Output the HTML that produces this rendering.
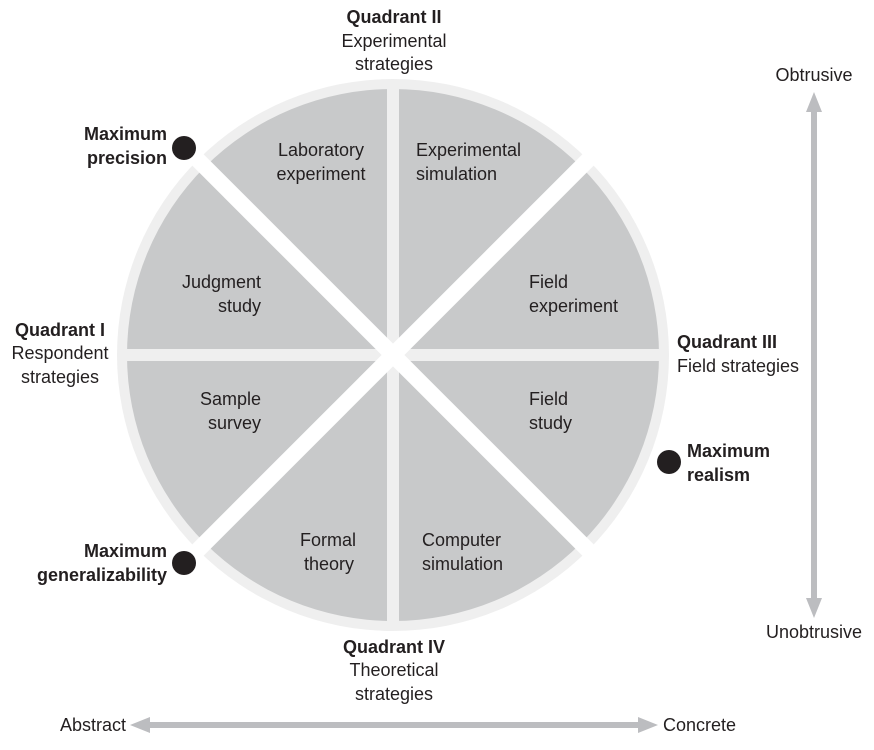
<!DOCTYPE html>
<html><head><meta charset="utf-8"><style>
html,body{margin:0;padding:0;background:#fff;width:874px;height:750px;overflow:hidden}
svg text{font-family:"Liberation Sans",sans-serif;font-size:18px;fill:#231f20}
.b{font-weight:bold}
</style></head><body>
<svg width="874" height="750" viewBox="0 0 874 750" xmlns="http://www.w3.org/2000/svg">
<circle cx="393" cy="355" r="276" fill="#efefef"/>
<circle cx="393" cy="355" r="266" fill="#c8c9ca"/>
<rect x="387" y="80" width="12" height="550" fill="#efefef"/>
<rect x="118" y="349" width="550" height="12" fill="#efefef"/>
<g transform="rotate(45 393 355)">
<rect x="385" y="60" width="16" height="590" fill="#fff"/>
<rect x="98" y="347" width="590" height="16" fill="#fff"/>
</g>
<rect x="811" y="108" width="6" height="494" fill="#bcbdc0"/>
<polygon points="814,92 806,112 822,112" fill="#bcbdc0"/>
<polygon points="814,618 806,598 822,598" fill="#bcbdc0"/>
<rect x="146" y="722" width="496" height="6" fill="#bcbdc0"/>
<polygon points="130,725 150,717 150,733" fill="#bcbdc0"/>
<polygon points="658,725 638,717 638,733" fill="#bcbdc0"/>
<circle cx="184" cy="148" r="12" fill="#231f20"/>
<circle cx="184" cy="563" r="12" fill="#231f20"/>
<circle cx="669" cy="462" r="12" fill="#231f20"/>
<text x="321" y="156" text-anchor="middle">Laboratory</text>
<text x="321" y="180" text-anchor="middle">experiment</text>
<text x="416" y="156">Experimental</text>
<text x="416" y="180">simulation</text>
<text x="261" y="288" text-anchor="end">Judgment</text>
<text x="261" y="312" text-anchor="end">study</text>
<text x="529" y="288">Field</text>
<text x="529" y="312">experiment</text>
<text x="261" y="405" text-anchor="end">Sample</text>
<text x="261" y="429" text-anchor="end">survey</text>
<text x="529" y="405">Field</text>
<text x="529" y="429">study</text>
<text x="328" y="546" text-anchor="middle">Formal</text>
<text x="329" y="570" text-anchor="middle">theory</text>
<text x="422" y="546">Computer</text>
<text x="422" y="570">simulation</text>
<text x="394" y="23" text-anchor="middle" class="b">Quadrant II</text>
<text x="394" y="47" text-anchor="middle">Experimental</text>
<text x="394" y="70" text-anchor="middle">strategies</text>
<text x="60" y="336" text-anchor="middle" class="b">Quadrant I</text>
<text x="60" y="359" text-anchor="middle">Respondent</text>
<text x="60" y="383" text-anchor="middle">strategies</text>
<text x="677" y="348" class="b">Quadrant III</text>
<text x="677" y="372">Field strategies</text>
<text x="394" y="653" text-anchor="middle" class="b">Quadrant IV</text>
<text x="394" y="676" text-anchor="middle">Theoretical</text>
<text x="394" y="700" text-anchor="middle">strategies</text>
<text x="167" y="140" text-anchor="end" class="b">Maximum</text>
<text x="167" y="164" text-anchor="end" class="b">precision</text>
<text x="167" y="557" text-anchor="end" class="b">Maximum</text>
<text x="167" y="581" text-anchor="end" class="b">generalizability</text>
<text x="687" y="457" class="b">Maximum</text>
<text x="687" y="481" class="b">realism</text>
<text x="814" y="81" text-anchor="middle">Obtrusive</text>
<text x="814" y="638" text-anchor="middle">Unobtrusive</text>
<text x="126" y="731" text-anchor="end">Abstract</text>
<text x="663" y="731">Concrete</text>
</svg>
</body></html>
